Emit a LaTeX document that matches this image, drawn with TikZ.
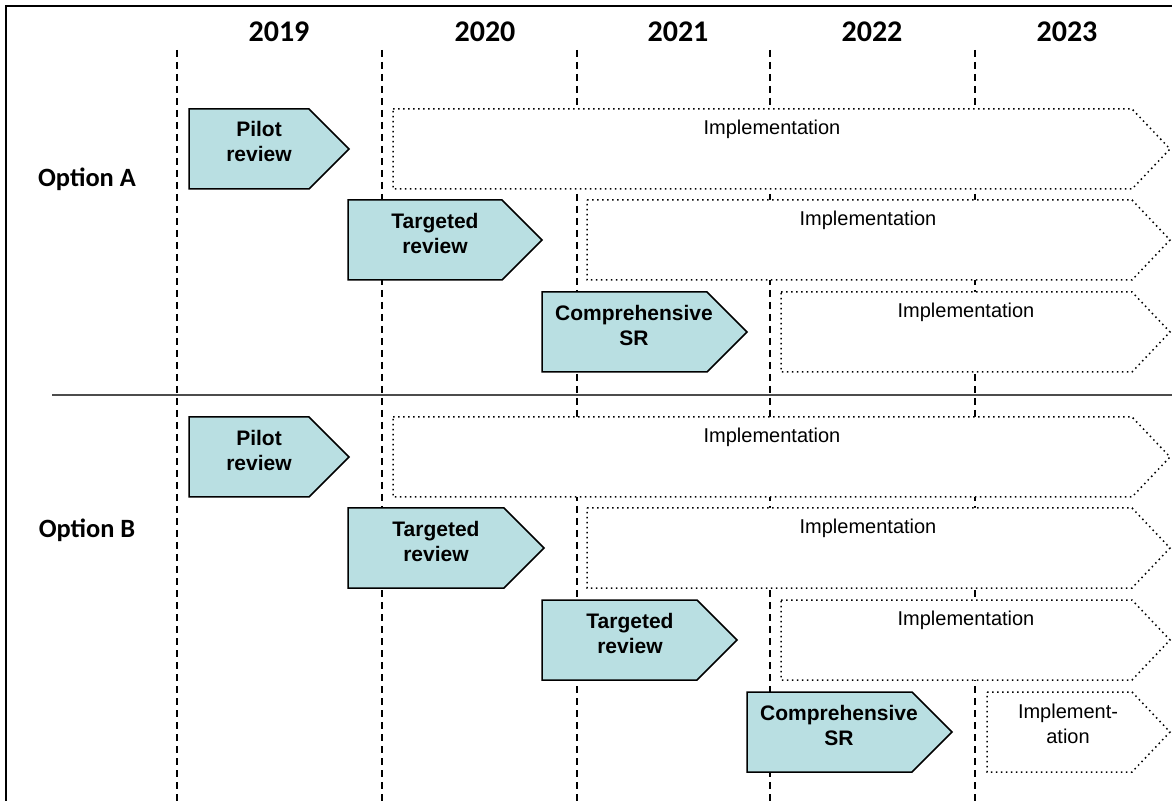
\documentclass[tikz,border=0pt]{standalone}
\usepackage{fontspec}
\setmainfont{Liberation Sans}
\newfontfamily\calibri{Carlito}
\definecolor{revteal}{RGB}{185,223,226}
\tikzset{
  review/.style={fill=revteal, draw=black, line width=0.75pt, line join=miter},
  implbox/.style={fill=white, draw=black, line width=0.75pt, dash pattern=on 0.75pt off 1.75pt},
  yearline/.style={line width=0.7pt, dash pattern=on 3.5pt off 2.5pt},
  revtext/.style={align=center, font=\bfseries\fontsize{10.5}{12.5}\selectfont},
  impltext/.style={align=center, font=\fontsize{10}{12.5}\selectfont},
  yeartext/.style={font=\calibri\bfseries\fontsize{15}{18}\selectfont},
  opttext/.style={font=\calibri\bfseries\fontsize{13.2}{16}\selectfont}
}
\begin{document}
\begin{tikzpicture}[x=0.5pt,y=-0.5pt]
    \useasboundingbox (0,0) rectangle (1172,801);
    % frame and separator
    \draw[line width=1pt] (6,801) -- (6,6) -- (1172,6);
    \draw[line width=1pt, color=black!70] (52,395) -- (1172,395);
    % year columns
    \foreach \x in {177,382,577,770,975}
        \draw[yearline] (\x,50) -- (\x,801);
    \foreach \x/\yr in {279/2019,485/2020,678/2021,872/2022,1067/2023}
        \node[yeartext] (y\yr) at (\x,32) {\yr};
    \node[opttext] (optA) at (87,179) {Option A};
    \node[opttext] (optB) at (87,530) {Option B};
    % Option A
    \filldraw[implbox] (393,109) -- (1132,109) -- (1170,149) -- (1132,189) -- (393,189) -- cycle;
    \filldraw[review] (189,109) -- (309,109) -- (349,149) -- (309,189) -- (189,189) -- cycle;
    \node[impltext] (implA1) at (772,129) {Implementation};
    \node[revtext] (pilotA) at (259,142) {Pilot\\review};
    \filldraw[implbox] (587,200) -- (1132,200) -- (1170,240) -- (1132,280) -- (587,280) -- cycle;
    \filldraw[review] (348,200) -- (502,200) -- (542,240) -- (502,280) -- (348,280) -- cycle;
    \node[impltext] (implA2) at (868,220) {Implementation};
    \node[revtext] (targA) at (435,233) {Targeted\\review};
    \filldraw[implbox] (781,292) -- (1132,292) -- (1170,332) -- (1132,372) -- (781,372) -- cycle;
    \filldraw[review] (542,292) -- (707,292) -- (747,332) -- (707,372) -- (542,372) -- cycle;
    \node[impltext] (implA3) at (966,312) {Implementation};
    \node[revtext] (compA) at (634,325) {Comprehensive\\SR};
    % Option B
    \filldraw[implbox] (393,417) -- (1132,417) -- (1170,457) -- (1132,497) -- (393,497) -- cycle;
    \filldraw[review] (189,417) -- (309,417) -- (349,457) -- (309,497) -- (189,497) -- cycle;
    \node[impltext] (implB1) at (772,437) {Implementation};
    \node[revtext] (pilotB) at (259,450) {Pilot\\review};
    \filldraw[implbox] (587,508) -- (1132,508) -- (1170,548) -- (1132,588) -- (587,588) -- cycle;
    \filldraw[review] (348,508) -- (504,508) -- (544,548) -- (504,588) -- (348,588) -- cycle;
    \node[impltext] (implB2) at (868,528) {Implementation};
    \node[revtext] (targB1) at (436,541) {Targeted\\review};
    \filldraw[implbox] (781,600) -- (1132,600) -- (1170,640) -- (1132,680) -- (781,680) -- cycle;
    \filldraw[review] (542,600) -- (697,600) -- (737,640) -- (697,680) -- (542,680) -- cycle;
    \node[impltext] (implB3) at (966,620) {Implementation};
    \node[revtext] (targB2) at (630,633) {Targeted\\review};
    \filldraw[implbox] (987,692) -- (1132,692) -- (1170,732) -- (1132,772) -- (987,772) -- cycle;
    \filldraw[review] (747,692) -- (912,692) -- (952,732) -- (912,772) -- (747,772) -- cycle;
    \node[impltext] (implB4) at (1068,724) {Implement-\\ation};
    \node[revtext] (compB) at (839,725) {Comprehensive\\SR};
\end{tikzpicture}
\end{document}
